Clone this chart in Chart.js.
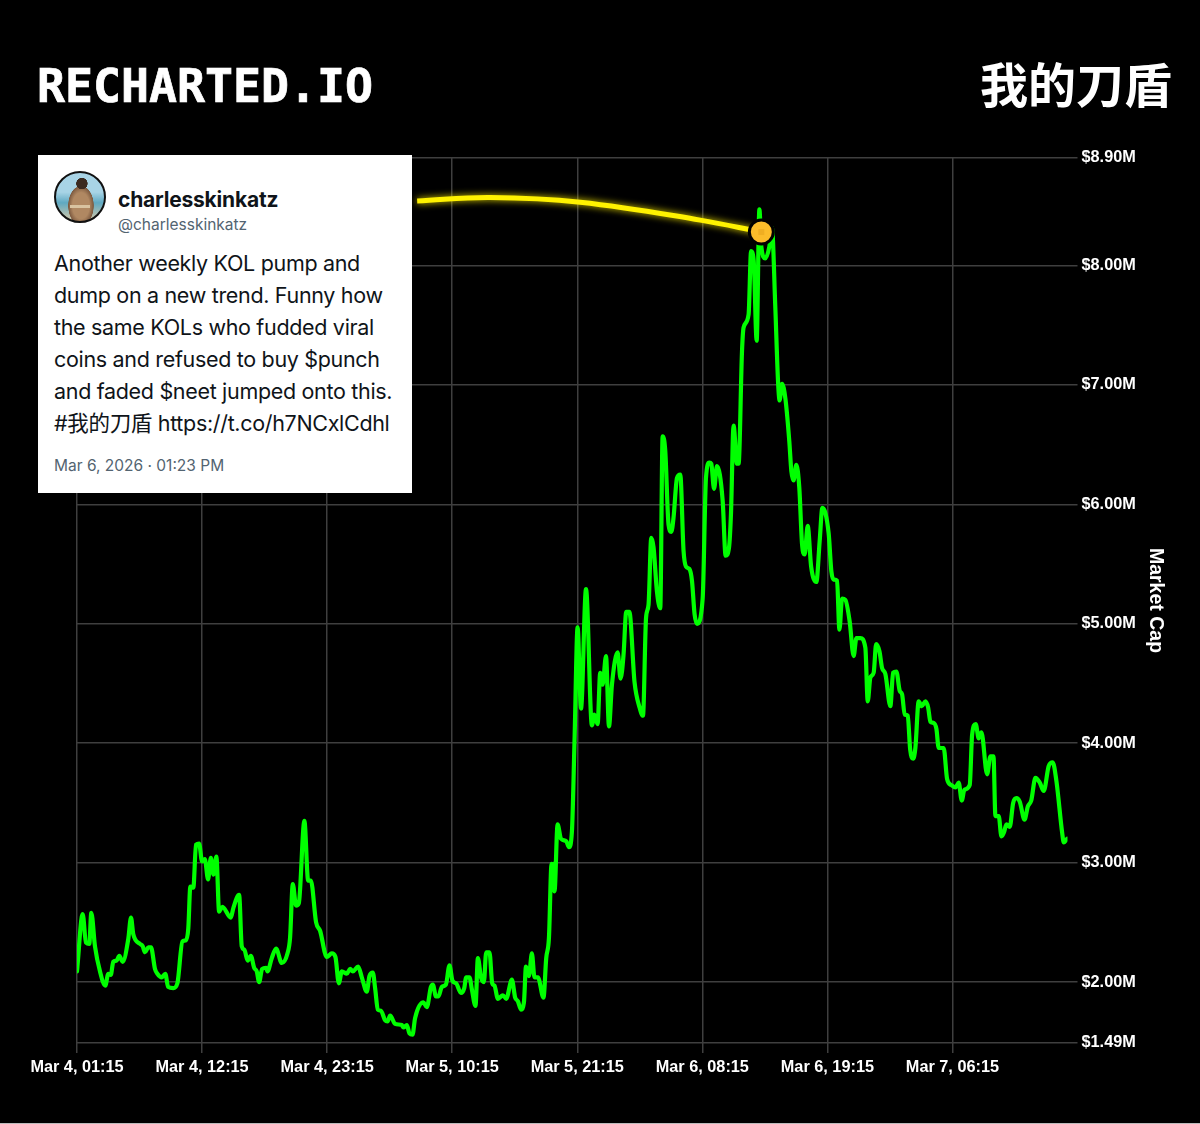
<!DOCTYPE html>
<html>
<head>
<meta charset="utf-8">
<script src="https://cdn.jsdelivr.net/npm/chart.js@4"></script>
<style>
  html, body { margin:0; padding:0; background:#000; }
  #page { position:relative; width:1200px; height:1124px; background:#000; overflow:hidden; }
  #chartBox { position:absolute; left:0; top:0; width:1200px; height:1124px; }
  #brand { position:absolute; left:37px; top:57px; font:bold 46.5px/58px "DejaVu Sans Mono", monospace; color:#fff; -webkit-text-stroke:0.7px #fff; }
  #token { position:absolute; right:28px; top:52px; font:700 48px/60px "Noto Sans CJK SC", sans-serif; color:#fff; }
  #card { position:absolute; left:37.5px; top:155px; width:374.5px; height:338px; background:#fff; font-family:Inter, "Noto Sans CJK SC", sans-serif; }
  #avatar { position:absolute; left:16.5px; top:16px; width:48px; height:48px; border:2.5px solid #111; border-radius:50%;
    background:
      radial-gradient(circle at 54% 22%, #3a2a20 0 12%, transparent 13%),
      linear-gradient(#d9c3a0, #d9c3a0) 50% 70% / 20px 3px no-repeat,
      radial-gradient(ellipse 13px 20px at 52% 68%, #b08862 0 65%, #7d5a40 96%, transparent 100%),
      linear-gradient(#a8d4e6 0 40%, #5fa9c2 62%, #d9c9a8 100%); }
  #name { position:absolute; left:80.5px; top:31px; font-weight:700; font-size:21px; line-height:28px; color:#0f1419; letter-spacing:-0.2px; }
  #handle { position:absolute; left:80.5px; top:60px; font-size:15.5px; line-height:20px; color:#536471; }
  #body { position:absolute; left:16.5px; top:92px; font-size:21.5px; line-height:32px; color:#0f1419; white-space:pre; letter-spacing:-0.32px; }
  #date { position:absolute; left:16.5px; top:301px; font-size:15.5px; line-height:20px; color:#536471; }
  #edge { position:absolute; left:0; bottom:0; width:1200px; height:1px; background:#bbb; }
</style>
</head>
<body>
<div id="page">
  <div id="chartBox"><canvas id="mcapChart"></canvas></div>
  <div id="brand">RECHARTED.IO</div>
  <div id="token">我的刀盾</div>
  <div id="card">
    <div id="avatar"></div>
    <div id="name">charlesskinkatz</div>
    <div id="handle">@charlesskinkatz</div>
    <div id="body">Another weekly KOL pump and
dump on a new trend. Funny how
the same KOLs who fudded viral
coins and refused to buy $punch
and faded $neet jumped onto this.
#我的刀盾 https://t.co/h7NCxlCdhl</div>
    <div id="date">Mar 6, 2026 · 01:23 PM</div>
  </div>
  <div id="edge"></div>
</div>
<script>
// tick labels, one every 11 hours
const timeLabels = ['Mar 4, 01:15','Mar 4, 12:15','Mar 4, 23:15','Mar 5, 10:15','Mar 5, 21:15','Mar 6, 08:15','Mar 6, 19:15','Mar 7, 06:15'];
const capTicks = [1.49, 2, 3, 4, 5, 6, 7, 8, 8.9];

// hours since Mar 4 01:15
const hours = [
  0,.5,.79,1.08,1.26,1.58,2.02,2.49,2.75,2.97,3.19,3.49,3.72,4.02,4.51,4.75,4.95,5.54,5.78,5.98,6.27,6.51,6.86,7.07,7.45,7.77,8.01,8.47,8.83,
  9.27,9.57,9.79,9.97,10.23,10.47,10.74,11,11.24,11.53,11.77,12,12.26,12.5,12.79,13.53,13.75,14.26,14.49,14.72,15.02,15.29,15.58,15.81,16.02,
  16.28,16.63,16.75,17.13,17.51,18.01,18.51,18.74,18.98,19.27,19.51,20,20.33,20.57,21.03,21.38,21.97,22.41,22.73,23.03,23.29,23.73,24.02,24.26,
  24.73,25.05,25.49,25.72,26.02,26.22,26.46,26.73,27.1,27.31,27.54,27.98,28.57,28.71,29.01,29.24,29.51,29.74,30.47,30.77,31.13,31.3,31.57,31.79,
  32.09,32.45,32.76,33.03,33.35,33.77,34.06,34.23,34.52,34.73,35.05,35.26,35.53,35.79,35.99,36.28,36.52,36.72,37.02,37.46,37.75,38.25,38.54,38.78,
  39.05,39.31,39.49,39.75,40.01,40.24,40.54,41.03,41.27,41.51,41.74,41.83,41.92,42,42.27,42.57,43.03,43.27,43.53,43.76,44.03,44.33,44.77,45.29,45.5,
  45.79,46.02,46.23,46.53,46.79,47.05,47.55,47.81,48.07,48.31,48.58,49.04,49.48,49.78,50.05,50.27,50.51,50.71,51.01,51.3,51.51,51.74,52.03,52.27,52.47,
  52.77,53.06,53.35,53.56,53.86,54.09,54.32,54.53,55.03,55.32,55.62,55.79,56.03,56.29,56.79,57.05,57.35,57.52,57.75,58.05,58.19,58.49,58.63,59.07,59.29,
  59.52,59.78,60.02,60.19,60.54,60.9,61.12,61.42,61.66,61.8,62.01,62.3,62.65,62.83,63.03,63.27,63.53,63.77,64,64.27,64.57,65.03,65.32,65.56,66.11,66.35,
  66.55,66.85,67.06,67.29,67.58,67.96,68.31,68.55,68.9,69.34,69.55,69.78,70.07,70.29,70.58,70.81,71.1,71.54,71.78,72.07,72.36,72.57,72.8,73.07,73.28,73.54,
  73.74,74.03,74.3,74.62,74.86,75.06,75.35,75.59,75.79,76.23,76.53,76.89,77.26,77.55,77.82,78.05,78.52,78.73,79.05,79.31,79.55,80.05,80.34,80.61,80.78,81.07,
  81.31,81.52,81.75,82.04,82.34,82.63,82.92,83.34,83.63,83.93,84.3,84.68,85.03,85.47,85.82,86.15,86.65,86.79,87.09
];
// market cap, $M
const marketCap = [
  2.09,2.57,2.33,2.32,2.58,2.30,2.09,1.97,2.07,2.06,2.17,2.18,2.22,2.17,2.36,2.54,2.40,2.32,2.30,2.25,2.29,2.29,2.11,2.07,2.04,2.07,1.96,1.95,1.99,
  2.34,2.35,2.45,2.80,2.79,3.15,3.16,3.01,3.03,2.86,3.04,2.90,3.05,2.59,2.63,2.54,2.62,2.73,2.30,2.27,2.18,2.22,2.12,2.09,2.00,
  2.11,2.12,2.09,2.20,2.28,2.16,2.24,2.37,2.82,2.64,2.66,3.35,2.85,2.85,2.50,2.43,2.21,2.24,2.21,1.99,2.09,2.07,2.11,2.09,
  2.13,2.04,1.92,2.05,2.08,1.95,1.77,1.76,1.68,1.67,1.72,1.65,1.64,1.62,1.64,1.57,1.56,1.70,1.83,1.79,1.96,1.98,1.88,1.88,
  1.96,1.98,2.14,2.01,1.99,1.91,1.95,2.04,2.04,1.94,1.80,2.20,2.04,2.00,2.25,2.25,1.99,1.97,1.86,1.89,1.86,2.02,1.87,1.84,
  1.77,1.83,2.13,2.05,2.24,2.04,2.04,1.87,2.20,2.37,2.99,2.78,2.99,2.76,3.32,3.20,3.18,3.13,3.26,4.02,4.97,4.29,5.29,4.15,4.24,
  4.16,4.59,4.49,4.73,4.14,4.49,4.76,4.54,4.74,5.10,5.10,4.51,4.30,4.23,5.05,5.16,5.72,5.64,5.27,5.13,6.57,6.45,5.83,5.77,5.89,
  6.22,6.25,5.61,5.48,5.46,5.36,5.08,5.00,5.21,6.22,6.35,6.34,6.13,6.32,6.03,5.57,5.64,5.92,6.66,6.34,6.34,7.28,7.48,7.59,8.12,
  8.04,7.37,8.47,8.16,8.06,8.16,8.32,7.65,7.03,6.87,7.01,6.89,6.53,6.28,6.20,6.33,6.14,5.67,5.58,5.82,5.48,5.35,5.69,5.97,5.76,5.44,
  5.37,5.36,4.95,5.21,5.20,5.02,4.73,4.88,4.88,4.80,4.35,4.55,4.59,4.83,4.77,4.63,4.58,4.31,4.59,4.60,4.44,4.41,4.24,4.23,3.95,3.87,
  3.96,4.35,4.31,4.35,4.30,4.18,4.17,4.12,3.96,3.96,3.70,3.65,3.63,3.67,3.52,3.61,3.65,4.07,4.16,4.04,4.09,3.74,3.89,3.89,3.39,3.39,
  3.22,3.25,3.32,3.30,3.50,3.54,3.51,3.36,3.47,3.52,3.71,3.67,3.60,3.81,3.84,3.68,3.25,3.17,3.20
];

// yellow connector from the tweet card to the moment it was posted
const tweetHours = [29.92, 36.34, 44.26, 54.82, 60.19];
const tweetCaps  = [8.54, 8.57, 8.53, 8.38, 8.28];

const GRID = '#3f3f3f';
const FONT = { family:"'Liberation Sans', Arial, sans-serif", size:16.3, weight:'bold' };

// Plugin: connector glow, and the small dark centre of the marker
const tweetPlugin = {
  id: 'tweetGlow',
  beforeDatasetDraw(chart, args) {
    if (args.index !== 1) return;
    chart.ctx.save();
    chart.ctx.shadowColor = 'rgba(255,240,0,0.9)';
    chart.ctx.shadowBlur = 7;
  },
  afterDatasetDraw(chart, args) {
    if (args.index === 1) chart.ctx.restore();
    if (args.index !== 0) return;
    const pt = chart.getDatasetMeta(0).data[0];
    chart.ctx.fillStyle = '#EFAE22';
    chart.ctx.fillRect(pt.x - 3, pt.y - 3, 6, 6);
  }
};

new Chart(document.getElementById('mcapChart'), {
  type: 'line',
  plugins: [tweetPlugin],
  data: {
    datasets: [
      {
        data: [{ x: tweetHours[tweetHours.length - 1], y: tweetCaps[tweetCaps.length - 1] }],
        showLine: false,
        pointRadius: 12,
        pointBackgroundColor: '#FBBC2A',
        pointBorderColor: '#000',
        pointBorderWidth: 3,
      },
      {
        data: tweetHours.map((h, i) => ({ x: h, y: tweetCaps[i] })),
        borderColor: '#FFF200',
        borderWidth: 5,
        tension: 0.4,
        pointRadius: 0,
      },
      {
        data: hours.map((h, i) => ({ x: h, y: marketCap[i] })),
        borderColor: '#00FF00',
        borderWidth: 4.2,
        cubicInterpolationMode: 'monotone',
        borderJoinStyle: 'round',
        borderCapStyle: 'round',
        pointRadius: 0,
      },
    ]
  },
  options: {
    responsive: true,
    maintainAspectRatio: false,
    animation: false,
    layout: { padding: { left: 77, top: 158, right: 0, bottom: 0 } },
    plugins: { legend: { display: false }, tooltip: { enabled: false } },
    scales: {
      x: {
        type: 'linear',
        min: 0,
        max: 87.12,
        grid: { color: GRID, lineWidth: 1.5, tickLength: 10, tickColor: GRID },
        border: { display: false },
        afterBuildTicks(s) { s.ticks = timeLabels.map((_, i) => ({ value: i * 11 })); },
        afterFit(s) { s.height = 81; },
        ticks: {
          color: '#fff', font: FONT, maxRotation: 0, autoSkip: false, padding: 5,
          callback: v => timeLabels[Math.round(v / 11)],
        },
      },
      y: {
        type: 'linear',
        position: 'right',
        min: 1.49,
        max: 8.9,
        grid: { color: GRID, lineWidth: 1.5, tickLength: 10, tickColor: GRID },
        border: { display: false },
        afterBuildTicks(s) { s.ticks = capTicks.map(v => ({ value: v })); },
        afterFit(s) { s.width = 132.5; },
        ticks: {
          color: '#fff', font: FONT, autoSkip: false, padding: 4,
          callback: v => '$' + v.toFixed(2) + 'M',
        },
        title: {
          display: true, text: 'Market Cap', color: '#fff',
          font: { family: FONT.family, size: 19.5, weight: 'bold' }, padding: { top: 33, bottom: 0 },
        },
      },
    },
  },
});
</script>
</body>
</html>
